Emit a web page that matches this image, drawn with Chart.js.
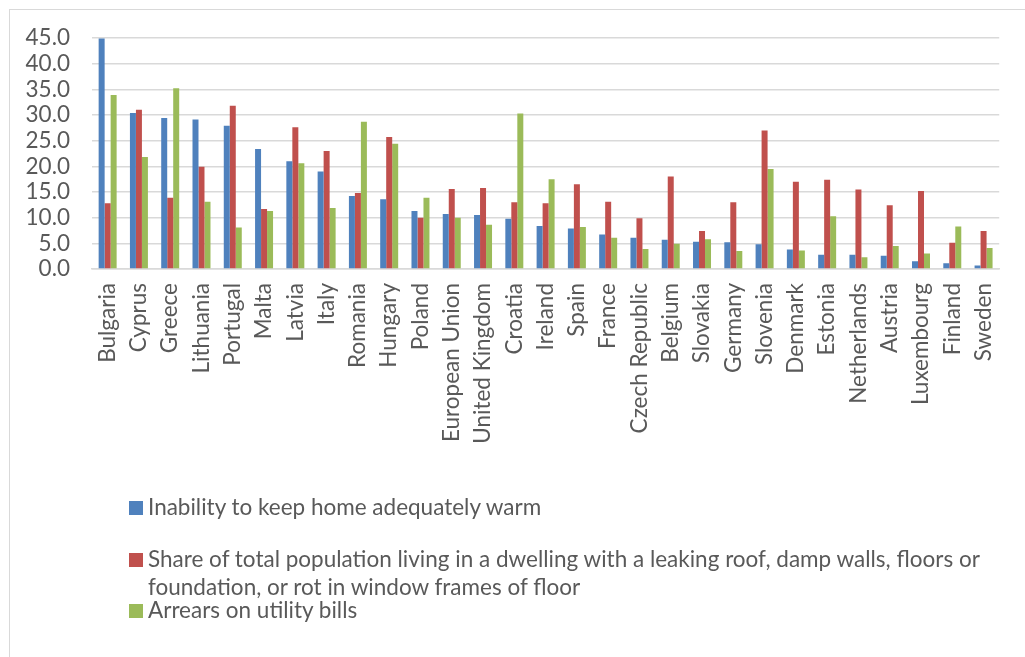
<!DOCTYPE html>
<html>
<head>
<meta charset="utf-8">
<script src="https://cdn.jsdelivr.net/npm/chart.js@4/dist/chart.umd.min.js"></script>
<style>
  html, body { margin: 0; padding: 0; background: #fff; }
  #wrap { position: relative; width: 1025px; height: 657px; overflow: hidden; }
  #frame { position: absolute; left: 9px; top: 9px; width: 1040px; height: 680px;
           border-left: 1px solid #d9d9d9; border-top: 1px solid #d9d9d9; box-sizing: border-box; }
  #chart { position: absolute; left: 0; top: 0; }
  .leg { position: absolute; left: 129px; font-family: Lato, sans-serif; font-size: 22.5px;
         line-height: 28px; color: #595959; }
  .leg .sw { position: absolute; left: 0; width: 14px; height: 14px; }
  .leg .tx { position: absolute; left: 19px; width: 850px; }
</style>
</head>
<body>
<div id="wrap">
  <div id="frame"></div>
  <canvas id="chart" width="1025" height="657"></canvas>
  <div id="legend"></div>
</div>
<script>
const countries = ['Bulgaria','Cyprus','Greece','Lithuania','Portugal','Malta','Latvia','Italy','Romania','Hungary','Poland','European Union','United Kingdom','Croatia','Ireland','Spain','France','Czech Republic','Belgium','Slovakia','Germany','Slovenia','Denmark','Estonia','Netherlands','Austria','Luxembourg','Finland','Sweden'];

const seriesNames = [
  'Inability to keep home adequately warm',
  'Share of total population living in a dwelling with a leaking roof, damp walls, floors or foundation, or rot in window frames of floor',
  'Arrears on utility bills'
];

const keepWarm = [44.9,30.4,29.4,29.1,27.9,23.4,21.0,19.0,14.2,13.6,11.3,10.7,10.5,9.8,8.4,7.9,6.7,6.1,5.7,5.3,5.2,4.8,3.8,2.8,2.8,2.6,1.5,1.1,0.7];
const leakingRoof = [12.8,31.0,13.9,19.9,31.8,11.7,27.6,23.0,14.8,25.7,10.0,15.6,15.8,13.0,12.8,16.5,13.1,9.9,18.0,7.4,13.0,27.0,17.0,17.4,15.5,12.4,15.2,5.1,7.4];
const arrears = [33.9,21.8,35.2,13.1,8.1,11.3,20.6,11.9,28.7,24.4,13.9,10.0,8.6,30.3,17.5,8.2,6.1,3.9,4.9,5.8,3.5,19.5,3.6,10.3,2.3,4.5,3.0,8.3,4.1];

const yTicks = [0,5,10,15,20,25,30,35,40,45];
const colors = ['#4f81bd','#c0504d','#9bbb59'];

const textColor = '#595959';
const fontFamily = 'Lato, sans-serif';

const chart = new Chart(document.getElementById('chart'), {
  type: 'bar',
  data: {
    labels: countries,
    datasets: [
      { label: seriesNames[0], data: keepWarm, backgroundColor: colors[0] },
      { label: seriesNames[1], data: leakingRoof, backgroundColor: colors[1] },
      { label: seriesNames[2], data: arrears, backgroundColor: colors[2] }
    ]
  },
  options: {
    responsive: false,
    animation: false,
    layout: { padding: { left: 0, right: 25, top: 38, bottom: 0 } },
    datasets: { bar: { categoryPercentage: 0.575, barPercentage: 1.0 } },
    plugins: { legend: { display: false }, tooltip: { enabled: false } },
    scales: {
      x: {
        grid: { display: false, drawTicks: false },
        border: { display: true, color: '#d9d9d9', width: 1.5 },
        ticks: {
          color: textColor, font: { family: fontFamily, size: 22.5 },
          minRotation: 90, maxRotation: 90, autoSkip: false, padding: 14
        },
        afterFit: (s) => { s.height = 388; }
      },
      y: {
        min: 0, max: 45,
        grid: { color: '#d9d9d9', lineWidth: 1.5, drawTicks: false },
        border: { display: false },
        afterBuildTicks: (s) => { s.ticks = yTicks.map(v => ({ value: v })); },
        ticks: {
          color: textColor, font: { family: fontFamily, size: 22.5 }, padding: 22,
          autoSkip: false, stepSize: 5,
          callback: (v) => Number(v).toFixed(1)
        },
        afterFit: (s) => { s.width = 92; }
      }
    }
  }
});

// Legend stacked below the plot
const legendTops = [493, 545, 596];
const legend = document.getElementById('legend');
seriesNames.forEach((name, i) => {
  const item = document.createElement('div');
  item.className = 'leg';
  item.style.top = legendTops[i] + 'px';
  const sw = document.createElement('div');
  sw.className = 'sw';
  sw.style.background = colors[i];
  sw.style.top = '8px';
  const tx = document.createElement('div');
  tx.className = 'tx';
  tx.textContent = name;
  item.appendChild(sw);
  item.appendChild(tx);
  legend.appendChild(item);
});
</script>
</body>
</html>
